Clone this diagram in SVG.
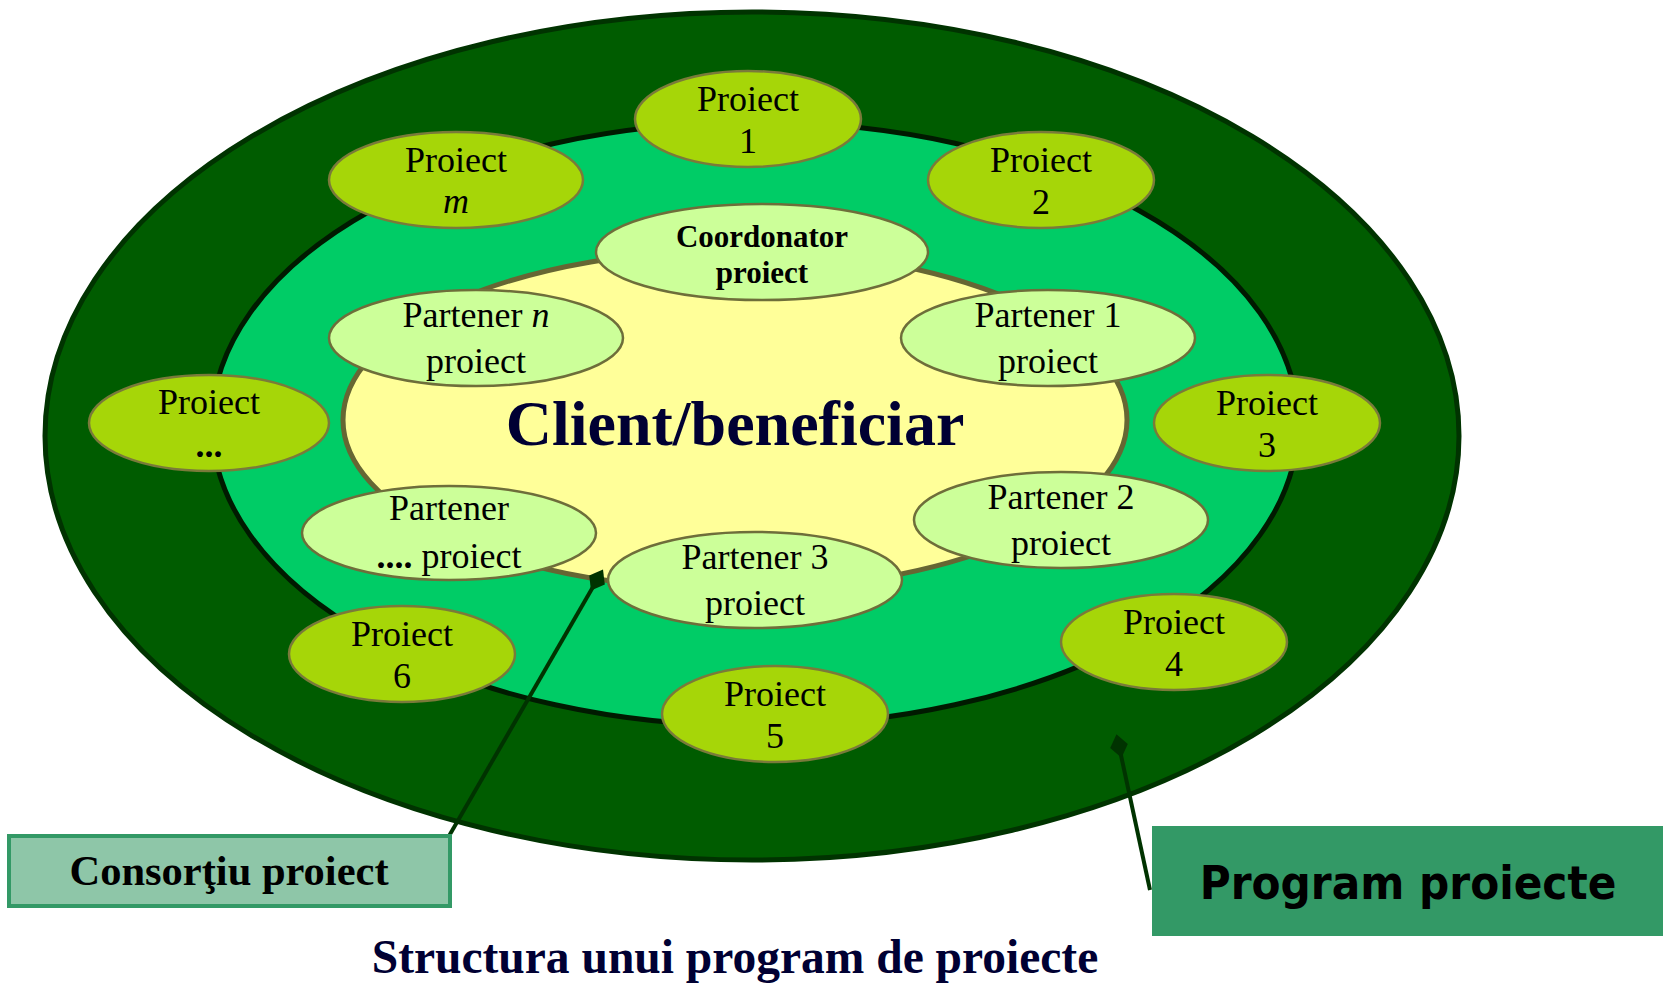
<svg xmlns="http://www.w3.org/2000/svg" width="1666" height="984" viewBox="0 0 1666 984">
<defs>
<style>
.proj{fill:#a6d608;stroke:#7a7a3a;stroke-width:2.5}
.part{fill:#ccff99;stroke:#6e6e3a;stroke-width:2.5}
.t{font-family:"Liberation Serif","Times New Roman",serif;font-size:36px;fill:#000;text-anchor:middle}
.conn{stroke:#003300;stroke-width:4;fill:none}
</style>
<marker id="dia" viewBox="-14 -14 28 28" markerWidth="28" markerHeight="28" refX="0" refY="0" orient="auto" markerUnits="userSpaceOnUse">
<path d="M-12,0 L0,-9 L12,0 L0,9 Z" fill="#003300"/>
</marker>
</defs>
<rect width="1666" height="984" fill="#ffffff"/>
<g id="program">
<ellipse cx="752" cy="436" rx="707" ry="424" fill="#005c00" stroke="#003300" stroke-width="5"/>
</g>
<g id="consortiu-area">
<ellipse cx="755" cy="424" rx="543" ry="302" fill="#00cc66" stroke="#001a00" stroke-width="5"/>
</g>
<g id="client">
<ellipse cx="735" cy="420" rx="392" ry="170" fill="#ffff99" stroke="#666633" stroke-width="5"/>
<text x="735" y="445" style="font-family:'Liberation Serif','Times New Roman',serif;font-size:64px;font-weight:bold;fill:#000033;text-anchor:middle">Client/beneficiar</text>
</g>
<g id="proiect1"><ellipse class="proj" cx="748" cy="119" rx="113" ry="48"/><text class="t" x="748" y="111">Proiect</text><text class="t" x="748" y="153">1</text></g>
<g id="proiect2"><ellipse class="proj" cx="1041" cy="180" rx="113" ry="48"/><text class="t" x="1041" y="172">Proiect</text><text class="t" x="1041" y="214">2</text></g>
<g id="proiect3"><ellipse class="proj" cx="1267" cy="423" rx="113" ry="48"/><text class="t" x="1267" y="415">Proiect</text><text class="t" x="1267" y="457">3</text></g>
<g id="proiect4"><ellipse class="proj" cx="1174" cy="642" rx="113" ry="48"/><text class="t" x="1174" y="634">Proiect</text><text class="t" x="1174" y="676">4</text></g>
<g id="proiect5"><ellipse class="proj" cx="775" cy="714" rx="113" ry="48"/><text class="t" x="775" y="706">Proiect</text><text class="t" x="775" y="748">5</text></g>
<g id="proiect6"><ellipse class="proj" cx="402" cy="654" rx="113" ry="48"/><text class="t" x="402" y="646">Proiect</text><text class="t" x="402" y="688">6</text></g>
<g id="proiect-dots"><ellipse class="proj" cx="209" cy="423" rx="120" ry="48"/><text class="t" x="209" y="414">Proiect</text><text class="t" x="209" y="457" font-weight="bold">...</text></g>
<g id="proiect-m"><ellipse class="proj" cx="456" cy="180" rx="127" ry="48"/><text class="t" x="456" y="172">Proiect</text><text class="t" x="456" y="213" font-style="italic">m</text></g>
<g id="coordonator"><ellipse class="part" cx="762" cy="252" rx="166" ry="48"/><text class="t" x="762" y="247" font-weight="bold" style="font-size:31px">Coordonator</text><text class="t" x="762" y="283" font-weight="bold" style="font-size:31px">proiect</text></g>
<g id="partener1"><ellipse class="part" cx="1048" cy="338" rx="147" ry="48"/><text class="t" x="1048" y="327">Partener 1</text><text class="t" x="1048" y="373">proiect</text></g>
<g id="partener2"><ellipse class="part" cx="1061" cy="520" rx="147" ry="48"/><text class="t" x="1061" y="509">Partener 2</text><text class="t" x="1061" y="555">proiect</text></g>
<g id="partener3"><ellipse class="part" cx="755" cy="580" rx="147" ry="48"/><text class="t" x="755" y="569">Partener 3</text><text class="t" x="755" y="615">proiect</text></g>
<g id="partener-dots"><ellipse class="part" cx="449" cy="533" rx="147" ry="47"/><text class="t" x="449" y="520">Partener</text><text class="t" x="449" y="568"><tspan font-weight="bold">....</tspan> proiect</text></g>
<g id="partener-n"><ellipse class="part" cx="476" cy="338" rx="147" ry="48"/><text class="t" x="476" y="327">Partener <tspan font-style="italic">n</tspan></text><text class="t" x="476" y="373">proiect</text></g>
<g id="connectors">
<line class="conn" x1="449" y1="836" x2="597" y2="580" marker-end="url(#dia)"/>
<line class="conn" x1="1150" y1="890" x2="1119" y2="746" marker-end="url(#dia)"/>
</g>
<g id="label-consortiu">
<rect x="9" y="836" width="441" height="70" fill="#8ec6a8" stroke="#339966" stroke-width="4"/>
<text x="229" y="885" style="font-family:'Liberation Serif','Times New Roman',serif;font-size:42.5px;font-weight:bold;fill:#000;text-anchor:middle">Consorţiu proiect</text>
</g>
<g id="label-program">
<rect x="1152" y="826" width="511" height="110" fill="#339966"/>
<text x="1408" y="899" style="font-family:'DejaVu Sans Condensed','DejaVu Sans',sans-serif;font-size:47px;font-weight:bold;fill:#000;text-anchor:middle">Program proiecte</text>
</g>
<g id="title">
<text x="735" y="973" style="font-family:'Liberation Serif','Times New Roman',serif;font-size:47.5px;font-weight:bold;fill:#000033;text-anchor:middle">Structura unui program de proiecte</text>
</g>
</svg>
